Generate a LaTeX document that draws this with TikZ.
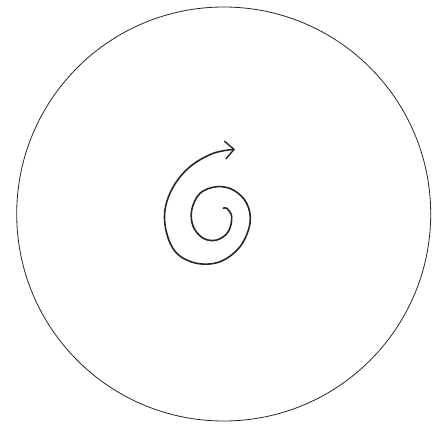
\documentclass[tikz,border=0pt]{standalone}
\usepackage{tikz}
\usetikzlibrary{arrows.meta}

\begin{document}
\begin{tikzpicture}[
            x=1pt, y=-1pt,
            rim/.style={draw, line width=0.8pt, black!85},
            spiral/.style={line width=1.6pt, black!85, line cap=round, line join=round, -{Straight Barb[length=9pt, width=18pt, line width=1.4pt]}}
        ]
            \useasboundingbox (0,0) rectangle (441,423);
            
            % the disc
            \draw[rim] (223.7,214) circle (207);
            
            % the spiral, drawn from its centre outwards
            \draw[spiral] plot[smooth, tension=0.6] coordinates {
                (223.3,208.3) (226.7,208.3) (231.7,216.7) (228.3,231.7) (216.7,240)
                (203.3,238.3) (193.3,226.7) (191.7,210) (200,193.3) (216.7,186.7)
                (233.3,190) (246.7,203.3) (250,223.3) (240,246.7) (220,261.7)
                (196.7,263.3) (176.7,253.3) (166.7,233.3) (165,210) (173.3,186.7)
                (190,166.7) (213.3,153.3) (235,149.3)};
            
        \end{tikzpicture}
\end{document}
